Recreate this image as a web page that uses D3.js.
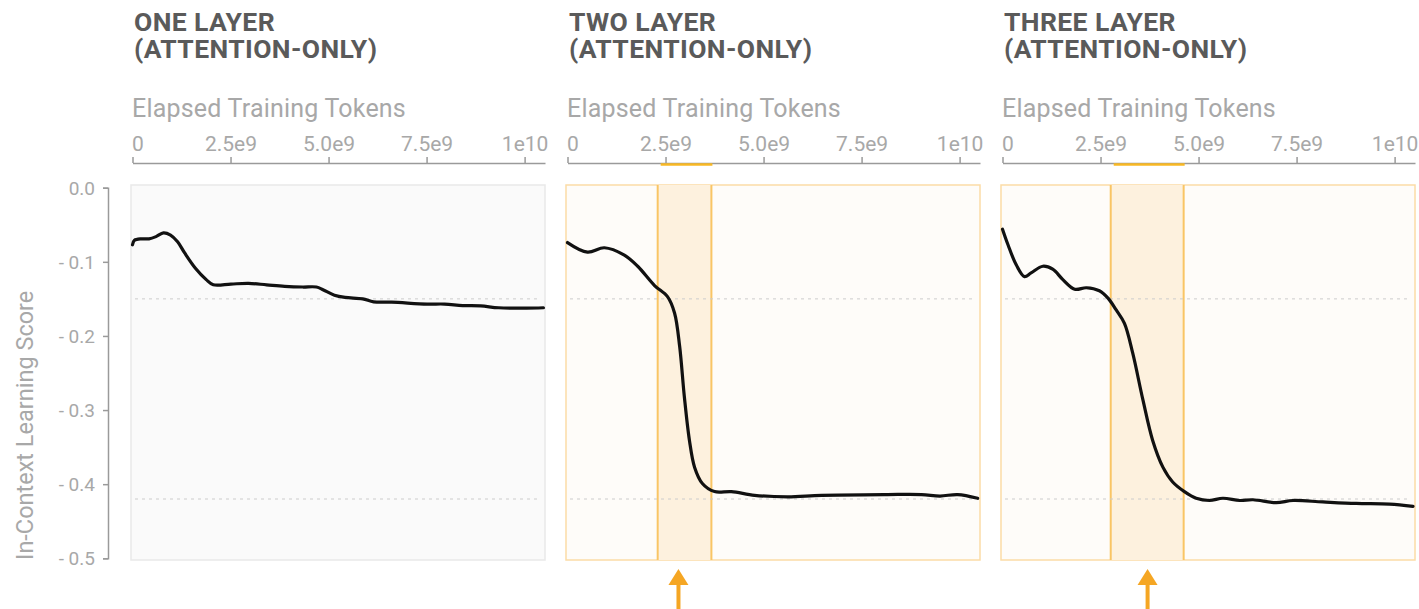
<!DOCTYPE html>
<html lang="en">
<head>
    <meta charset="UTF-8">
    <title>In-Context Learning Score</title>
    <script src="https://d3js.org/d3.v7.min.js"></script>
    <style>
        body {margin: 0; background: #fff;}
        text {font-family: Roboto, "Open Sans", sans-serif;}
    </style>
</head>
<body>
<script>
    const width = 1419;
    const height = 609;

    // chart data
    const titles = [
        ["ONE LAYER", "(ATTENTION-ONLY)"],
        ["TWO LAYER", "(ATTENTION-ONLY)"],
        ["THREE LAYER", "(ATTENTION-ONLY)"]
    ];
    const xTicks = [0, 2.5e9, 5e9, 7.5e9, 1e10];
    const xTickLabels = ["0", "2.5e9", "5.0e9", "7.5e9", "1e10"];
    const yTicks = [0, -0.1, -0.2, -0.3, -0.4, -0.5];
    const yTickLabels = ["0.0", "- 0.1", "- 0.2", "- 0.3", "- 0.4", "- 0.5"];
    const refLines = [-0.15, -0.42];

    // tokens in units of 1e9
    const tokensOne = [0, 0.05, 0.23, 0.42, 0.6, 0.79, 0.97, 1.15, 1.33, 1.61, 1.88, 2.06, 2.51, 2.96, 3.42,
        3.88, 4.34, 4.69, 4.87, 5.15, 5.42, 5.87, 6.15, 6.61, 7.51, 7.96, 8.42, 8.88, 9.34, 10.05, 10.48];
    const scoreOne = [-0.077, -0.071, -0.069, -0.069, -0.066, -0.061, -0.064, -0.073, -0.088, -0.109, -0.124,
        -0.131, -0.130, -0.129, -0.131, -0.133, -0.134, -0.134, -0.138, -0.145, -0.148, -0.150, -0.154,
        -0.1545, -0.157, -0.157, -0.159, -0.1595, -0.162, -0.1625, -0.162];

    const tokensTwo = [0, 0.51, 0.94, 1.45, 1.79, 2.22, 2.55, 2.73, 2.86, 2.98, 3.11, 3.24, 3.44, 3.75, 4.18,
        4.77, 5.61, 6.48, 8.16, 9.03, 9.5, 9.95, 10.46];
    const scoreTwo = [-0.074, -0.087, -0.081, -0.091, -0.106, -0.132, -0.147, -0.169, -0.214, -0.282, -0.341,
        -0.377, -0.399, -0.410, -0.410, -0.415, -0.417, -0.415, -0.414, -0.414, -0.416, -0.414, -0.419];

    const tokensThree = [0, 0.14, 0.35, 0.56, 0.73, 1.03, 1.28, 1.54, 1.84, 2.14, 2.47, 2.69, 2.9, 3.11, 3.32,
        3.58, 3.83, 4.09, 4.34, 4.64, 4.94, 5.28, 5.62, 6.05, 6.39, 6.98, 7.41, 8.17, 9.02, 9.87, 10.47];
    const scoreThree = [-0.056, -0.077, -0.104, -0.120, -0.115, -0.106, -0.110, -0.124, -0.137, -0.135, -0.139,
        -0.149, -0.165, -0.183, -0.223, -0.286, -0.341, -0.377, -0.397, -0.410, -0.419, -0.422, -0.419,
        -0.422, -0.421, -0.425, -0.422, -0.424, -0.426, -0.427, -0.430];

    const tokens = [tokensOne, tokensTwo, tokensThree];
    const scores = [scoreOne, scoreTwo, scoreThree];

    // phase-change window and arrow position (tokens, 1e9)
    const phaseBands = [null, [2.3, 3.67], [2.76, 4.62]];
    const arrowAt = [null, 2.83, 3.7];

    const panelLeft = [131, 566, 1001];
    const panelW = 414;
    const panelTop = 185, panelBottom = 560;

    const svg = d3.select("body").append("svg")
            .attr("width", width).attr("height", height);

    const y = d3.scaleLinear().domain([0, -0.5]).range([187.7, 558.3]);

    // y axis (shared, on the left)
    const yAxis = svg.append("g")
            .attr("transform", "translate(108,0)")
            .call(d3.axisLeft(y).tickValues(yTicks)
                    .tickFormat((d, i) => yTickLabels[i])
                    .tickSize(5).tickSizeOuter(5).tickPadding(8));
    yAxis.select(".domain").style("stroke", "#9a9a9a").style("stroke-width", 1.5);
    yAxis.selectAll(".tick line").style("stroke", "#9a9a9a").style("stroke-width", 1.5);
    yAxis.selectAll(".tick text")
            .style("font-size", "19px")
            .style("fill", "#a8a8a8")
            .attr("dy", "0.35em");

    svg.append("text")
            .attr("transform", "translate(33,560) rotate(-90)")
            .style("font-size", "23.5px")
            .style("fill", "#a8a8a8")
            .text("In-Context Learning Score");

    titles.forEach(function(title, i) {
        const left = panelLeft[i];
        const x = d3.scaleLinear().domain([0, 10.52]).range([left + 1.5, left + panelW]);
        const g = svg.append("g").attr("class", "panel");
        const highlighted = phaseBands[i] !== null;

        // two-line title in one text element
        g.append("text")
                .attr("class", "title")
                .attr("y", 31)
                .style("font-size", "26.5px")
                .style("font-weight", "bold")
                .style("letter-spacing", "0.4px")
                .style("fill", "#5a5a5a")
                .selectAll("tspan")
                .data(title)
                .enter()
                .append("tspan")
                .attr("x", left + 3)
                .attr("dy", (d, k) => k === 0 ? 0 : 27)
                .text(d => d);

        g.append("text")
                .attr("x", left + 1)
                .attr("y", 117)
                .style("font-size", "25px")
                .style("letter-spacing", "0.2px")
                .style("fill", "#a8a8a8")
                .text("Elapsed Training Tokens");

        // x axis on top
        const xAxis = g.append("g")
                .attr("transform", "translate(0,163)")
                .call(d3.axisTop(x).tickValues(xTicks.map(t => t / 1e9))
                        .tickFormat((d, k) => xTickLabels[k])
                        .tickSize(6).tickSizeOuter(0).tickPadding(6));
        xAxis.select(".domain").style("stroke", "#9a9a9a").style("stroke-width", 1.5);
        xAxis.selectAll(".tick line").style("stroke", "#9a9a9a").style("stroke-width", 1.5);
        xAxis.selectAll(".tick text")
                .style("font-size", "21px")
                .style("fill", "#a8a8a8")
                .attr("text-anchor", (d, k) => k === 0 ? "start" : "middle")
                .attr("dx", (d, k) => k === 0 ? "-1" : 0);

        // panel background
        g.append("rect")
                .attr("x", left).attr("y", panelTop)
                .attr("width", panelW).attr("height", panelBottom - panelTop)
                .style("fill", highlighted ? "#fefcf9" : "#fafafa")
                .style("stroke", highlighted ? "#fbdca6" : "#e9e9e9")
                .style("stroke-width", 1.5);

        if (highlighted) {
            const band = phaseBands[i];
            g.append("rect")
                    .attr("x", x(band[0])).attr("y", panelTop)
                    .attr("width", x(band[1]) - x(band[0])).attr("height", panelBottom - panelTop)
                    .style("fill", "#fdf1de");
            g.selectAll("line.edge")
                    .data(band)
                    .enter()
                    .append("line")
                    .attr("class", "edge")
                    .attr("x1", d => x(d)).attr("x2", d => x(d))
                    .attr("y1", panelTop).attr("y2", panelBottom)
                    .style("stroke", "#f9c565")
                    .style("stroke-width", 2);

            // orange mark on the axis
            g.append("line")
                    .attr("x1", x(band[0]) + 3).attr("x2", x(band[1]) + 1)
                    .attr("y1", 164.5).attr("y2", 164.5)
                    .style("stroke", "#f8b824")
                    .style("stroke-width", 2.5);

            // arrow below the panel
            const ax = x(arrowAt[i]);
            g.append("path")
                    .attr("d", `M${ax},569 L${ax + 10},585 L${ax - 10},585 Z`)
                    .style("fill", "#f5a623");
            g.append("line")
                    .attr("x1", ax).attr("x2", ax)
                    .attr("y1", 584).attr("y2", 609)
                    .style("stroke", "#f5a623")
                    .style("stroke-width", 4);
        }

        // dotted reference lines
        g.selectAll("line.ref")
                .data(refLines)
                .enter()
                .append("line")
                .attr("class", "ref")
                .attr("x1", left + 4).attr("x2", left + panelW - 4)
                .attr("y1", d => y(d)).attr("y2", d => y(d))
                .style("stroke", "#cccccc")
                .style("stroke-width", 1)
                .style("stroke-dasharray", "3,4");

        // score curve
        const pts = tokens[i].map((t, k) => [t, scores[i][k]]);
        const line = d3.line()
                .x(d => x(d[0]))
                .y(d => y(d[1]))
                .curve(d3.curveCatmullRom.alpha(0.5));
        g.append("path")
                .datum(pts)
                .attr("d", line)
                .style("fill", "none")
                .style("stroke", "#111")
                .style("stroke-width", 3.2)
                .style("stroke-linejoin", "round")
                .style("stroke-linecap", "round");
    });
</script>
</body>
</html>
